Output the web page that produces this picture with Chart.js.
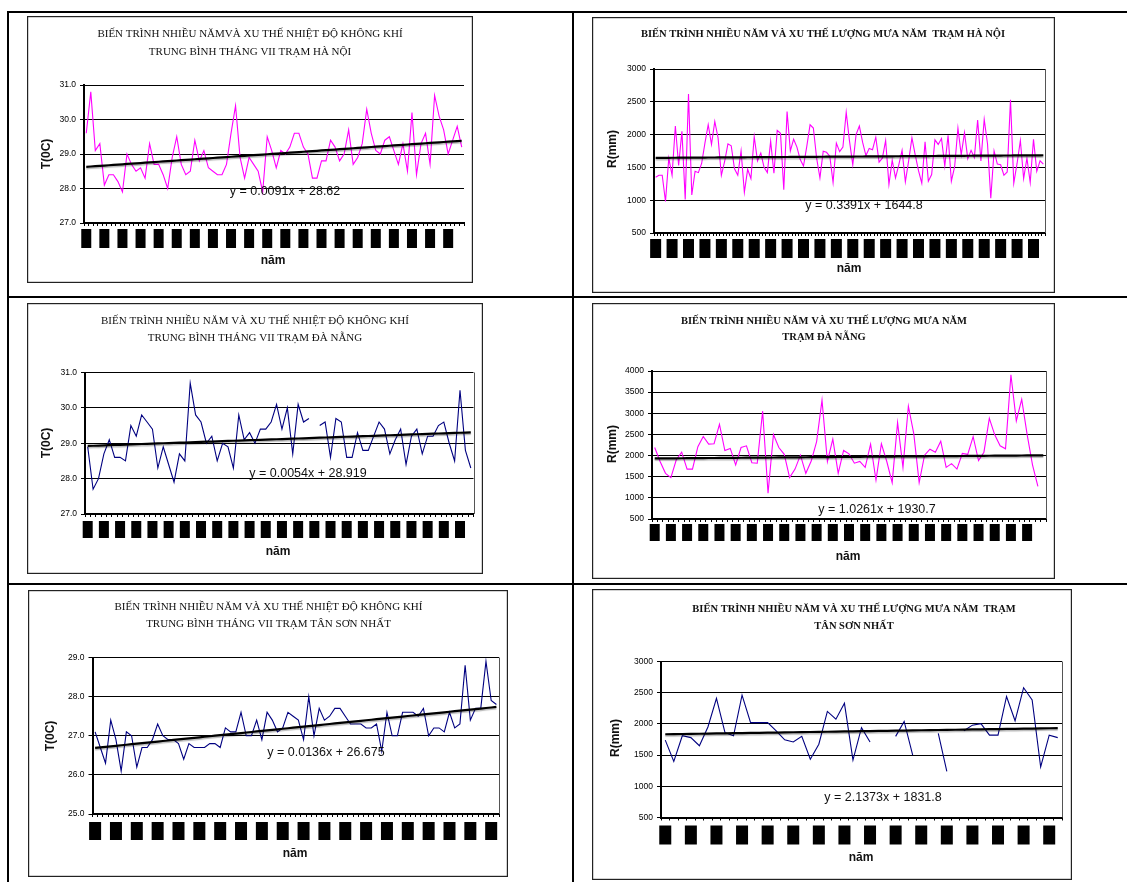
<!DOCTYPE html>
<html lang="vi">
<head>
<meta charset="utf-8">
<title>Biến trình nhiều năm và xu thế nhiệt độ, lượng mưa</title>
<script src="https://cdn.jsdelivr.net/npm/chart.js@4.4.1/dist/chart.umd.min.js"></script>
<style>
  html, body { margin: 0; padding: 0; background: #fff; }
  #page { position: relative; width: 1127px; height: 882px; overflow: hidden; background: #fff; }
  .rule { position: absolute; background: #000; }
  canvas { position: absolute; }
</style>
</head>
<body>
<div id="page">
  <!-- table rules -->
  <div class="rule" style="left:7px;top:11px;width:1120px;height:2px"></div>
  <div class="rule" style="left:7px;top:296px;width:1120px;height:2px"></div>
  <div class="rule" style="left:7px;top:583px;width:1120px;height:2px"></div>
  <div class="rule" style="left:7px;top:11px;width:2px;height:871px"></div>
  <div class="rule" style="left:572px;top:11px;width:2px;height:871px"></div>
</div>
<script>
// ---- July mean air temperature, Hà Nội (°C) ----
const hnTemp = [29.6, 30.8, 29.1, 29.3, 28.1, 28.4, 28.4, 28.2, 27.9, 29.0,
  28.7, 28.5, 28.6, 28.3, 29.3, 28.7, 28.7, 28.4, 28.0, 28.9,
  29.5, 28.7, 28.4, 28.5, 29.4, 28.8, 29.1, 28.6, 28.5, 28.4,
  28.4, 28.7, 29.6, 30.4, 28.9, 28.3, 28.9, 28.7, 28.5, 27.9,
  29.5, 29.1, 28.6, 29.1, 29.0, 29.2, 29.6, 29.6, 29.2, 29.0,
  28.3, 28.3, 28.8, 28.8, 29.4, 29.2, 28.8, 29.0, 29.7, 28.7,
  28.9, 29.3, 30.3, 29.6, 29.1, 29.0, 29.4, 29.5, 29.1, 28.7,
  29.3, 28.5, 30.2, 28.4, 29.3, 29.6, 28.7, 30.7, 30.1, 29.7,
  29.0, 29.4, 29.8, 29.2];
const hnTempTrend = [0.0091, 28.62];           // slope, intercept

// ---- Annual rainfall, Hà Nội (mm) ----
const hnRain = [1350, 1380, 1380, 980, 1640, 1380, 2130, 1530, 2050, 1010,
  2620, 1080, 1440, 1420, 1560, 1870, 2150, 1850, 2200, 1950,
  1380, 1590, 1860, 1830, 1480, 1380, 1750, 1120, 1470, 1330,
  1970, 1600, 1720, 1500, 1420, 1900, 1410, 2065, 2020, 1160,
  2350, 1750, 1930, 1810, 1620, 1520, 1820, 2150, 2100, 1640,
  1340, 1745, 1730, 1670, 1270, 1870, 1740, 1810, 2340, 1900,
  1540, 2000, 2130, 1880, 1680, 1790, 1770, 1960, 1580, 1640,
  1910, 1240, 1610, 1340, 1540, 1760, 1280, 1600, 1950, 1690,
  1450, 1260, 1890, 1290, 1390, 1920, 1850, 1940, 1520, 1990,
  1290, 1510, 2100, 1690, 2030, 1630, 1760, 1650, 2220, 1600,
  2230, 1860, 1030, 1750, 1550, 1540, 1380, 1430, 2530, 1260,
  1560, 1910, 1330, 1640, 1270, 1930, 1440, 1600, 1550];
const hnRainTrend = [0.3391, 1644.8];

// ---- July mean air temperature, Đà Nẵng (°C); null = missing year ----
const dnTemp = [28.9, 27.7, 28.0, 28.7, 29.1, 28.6, 28.6, 28.5, 29.5, 29.2,
  29.8, 29.6, 29.4, 28.3, 28.9, 28.4, 27.9, 28.7, 28.5, 30.7,
  29.8, 29.6, 29.0, 29.2, 28.5, 29.0, 28.9, 28.3, 29.8, 29.1,
  29.3, 29.0, 29.4, 29.4, 29.6, 30.1, 29.4, 30.0, 28.7, 30.1,
  29.6, 29.7, null, 29.5, 29.6, 28.6, 29.7, 29.6, 28.6, 28.6,
  29.3, 28.8, 28.8, 29.2, 29.6, 29.4, 28.7, 29.1, 29.4, 28.4,
  29.2, 29.4, 28.7, 29.2, 29.2, 29.5, 29.6, 29.0, 28.5, 30.5,
  28.8, 28.3];
const dnTempTrend = [0.0054, 28.919];

// ---- Annual rainfall, Đà Nẵng (mm) ----
const dnRain = [2190, 1860, 1580, 1480, 1900, 2080, 1680, 1680, 2210, 2450,
  2270, 2280, 2740, 2120, 2170, 1780, 2190, 2230, 1830, 1820,
  3050, 1110, 2500, 2190, 2030, 1480, 1680, 2010, 1580, 1870,
  2330, 3310, 1860, 2390, 1580, 2120, 2040, 1820, 1860, 1720,
  2270, 1420, 2280, 1860, 1360, 2780, 1720, 3170, 2520, 1360,
  2010, 2150, 2080, 2340, 1720, 1810, 1680, 2050, 2030, 2450,
  1880, 2080, 2880, 2490, 2230, 2160, 3910, 2820, 3330, 2500,
  1780, 1270, null];
const dnRainTrend = [1.0261, 1930.7];

// ---- July mean air temperature, Tân Sơn Nhất (°C) ----
const tsnTemp = [27.1, 26.7, 26.3, 27.4, 26.9, 26.1, 27.1, 27.0, 26.2, 26.7,
  26.7, 26.9, 27.3, 27.0, 26.9, 26.9, 26.8, 26.4, 26.8, 26.7,
  26.7, 26.7, 26.8, 26.8, 26.7, 27.2, 27.1, 27.1, 27.6, 27.0,
  27.0, 27.4, 26.9, 27.6, 27.4, 27.1, 27.2, 27.6, 27.5, 27.4,
  26.9, 28.0, 27.0, 27.7, 27.4, 27.5, 27.7, 27.7, 27.5, 27.3,
  27.3, 27.3, 27.2, 27.2, 27.3, 26.6, 27.6, 27.0, 27.0, 27.6,
  27.6, 27.6, 27.5, 27.7, 27.0, 27.2, 27.2, 27.1, 27.6, 27.2,
  27.3, 28.8, 27.4, 27.7, 27.7, 28.9, 27.9, 27.8];
const tsnTempTrend = [0.0136, 26.675];

// ---- Annual rainfall, Tân Sơn Nhất (mm); null = missing year ----
const tsnRain = [1740, 1400, 1810, 1780, 1650, 1950, 2410, 1860, 1810, 2460,
  2020, 2020, 2020, 1890, 1745, 1710, 1800, 1435, 1675, 2200,
  2075, 2330, 1420, 1940, 1710, null, null, 1800, 2040, 1500,
  null, null, 1850, 1240, null, 1890, 1980, 2005, 1820, 1820,
  2440, 2050, 2580, 2385, 1310, 1820, 1780];
const tsnRainTrend = [2.1373, 1831.8];

// ---- value-axis ticks ----
const tempTicksHN = [27, 28, 29, 30, 31];
const tempTicksDN = [27, 28, 29, 30, 31];
const tempTicksTSN = [25, 26, 27, 28, 29];
const rainTicksHN = [500, 1000, 1500, 2000, 2500, 3000];
const rainTicksDN = [500, 1000, 1500, 2000, 2500, 3000, 3500, 4000];
const rainTicksTSN = [500, 1000, 1500, 2000, 2500, 3000];

// ---- chart titles ----
const titleHNTemp = ['BIẾN TRÌNH NHIỀU NĂMVÀ XU THẾ NHIỆT ĐỘ KHÔNG KHÍ', 'TRUNG BÌNH THÁNG VII TRẠM HÀ NỘI'];
const titleHNRain = ['BIẾN TRÌNH NHIỀU NĂM VÀ XU THẾ LƯỢNG MƯA NĂM  TRẠM HÀ NỘI'];
const titleDNTemp = ['BIẾN TRÌNH NHIỀU NĂM VÀ XU THẾ NHIỆT ĐỘ KHÔNG KHÍ', 'TRUNG BÌNH THÁNG VII TRẠM ĐÀ NẴNG'];
const titleDNRain = ['BIẾN TRÌNH NHIỀU NĂM VÀ XU THẾ LƯỢNG MƯA NĂM', 'TRẠM ĐÀ NẴNG'];
const titleTSNTemp = ['BIẾN TRÌNH NHIỀU NĂM VÀ XU THẾ NHIỆT ĐỘ KHÔNG KHÍ', 'TRUNG BÌNH THÁNG VII TRẠM TÂN SƠN NHẤT'];
const titleTSNRain = ['BIẾN TRÌNH NHIỀU NĂM VÀ XU THẾ LƯỢNG MƯA NĂM  TRẠM', 'TÂN SƠN NHẤT'];

const MAGENTA = '#FF00FF';
const NAVY = '#000080';
const SERIF = '"Liberation Serif", "Times New Roman", serif';
const SANS = '"Liberation Sans", Arial, sans-serif';

// Page layout of each panel: box = chart frame [x, y, w, h], plot = [left, top, right, bottom]
const panels = [
  { series: hnTemp, trend: hnTempTrend, ticks: tempTicksHN, decimals: 1, color: MAGENTA, yTitle: 'T(0C)',
    title: titleHNTemp, titleBold: false, titleX: 250, titleY: [34.5, 52],
    box: [27, 16, 446, 267], plot: [84, 85, 464, 223],
    yTitleAt: [47, 154], xTitleAt: [273, 261], eqAt: [285, 192],
    blocks: { step: 4, count: 21, w: 10, gap: 6, h: 19 }, rightEdge: false },
  { series: hnRain, trend: hnRainTrend, ticks: rainTicksHN, decimals: 0, color: MAGENTA, yTitle: 'R(mm)',
    title: titleHNRain, titleBold: true, titleX: 823, titleY: [34.5],
    box: [592, 17, 463, 276], plot: [654, 69, 1045, 233],
    yTitleAt: [613, 149], xTitleAt: [849, 269], eqAt: [864, 206],
    blocks: { step: 5, count: 24, w: 11, gap: 6, h: 19 }, rightEdge: true },
  { series: dnTemp, trend: dnTempTrend, ticks: tempTicksDN, decimals: 1, color: NAVY, yTitle: 'T(0C)',
    title: titleDNTemp, titleBold: false, titleX: 255, titleY: [321, 338.5],
    box: [27, 303, 456, 271], plot: [85, 372.5, 473.5, 514],
    yTitleAt: [47, 443], xTitleAt: [278, 552], eqAt: [308, 474],
    blocks: { step: 3, count: 24, w: 10, gap: 7, h: 17 }, rightEdge: true },
  { series: dnRain, trend: dnRainTrend, ticks: rainTicksDN, decimals: 0, color: MAGENTA, yTitle: 'R(mm)',
    title: titleDNRain, titleBold: true, titleX: 824, titleY: [321.5, 337.5],
    box: [592, 303, 463, 276], plot: [652, 371, 1046, 519],
    yTitleAt: [613, 444], xTitleAt: [848, 557], eqAt: [877, 510],
    blocks: { step: 3, count: 24, w: 10, gap: 5, h: 17 }, rightEdge: true },
  { series: tsnTemp, trend: tsnTempTrend, ticks: tempTicksTSN, decimals: 1, color: NAVY, yTitle: 'T(0C)',
    title: titleTSNTemp, titleBold: false, titleX: 268.5, titleY: [607.5, 624],
    box: [28, 590, 480, 287], plot: [92.5, 657.5, 499, 814],
    yTitleAt: [51, 736], xTitleAt: [295, 854], eqAt: [326, 752.5],
    blocks: { step: 4, count: 20, w: 12, gap: 8, h: 18 }, rightEdge: true },
  { series: tsnRain, trend: tsnRainTrend, ticks: rainTicksTSN, decimals: 0, color: NAVY, yTitle: 'R(mm)',
    title: titleTSNRain, titleBold: true, titleX: 854, titleY: [609.5, 626],
    box: [592, 589, 480, 291], plot: [661, 661.5, 1062, 817.5],
    yTitleAt: [615.5, 738], xTitleAt: [861, 858], eqAt: [883, 797.5],
    blocks: { step: 3, count: 16, w: 12, gap: 8, h: 19 }, rightEdge: true }
];

Chart.defaults.font.family = SANS;

// Frame, titles, axis captions, trend equation and the year-label blocks
function decorations(p) {
  const [bx, by, bw, bh] = p.box;
  return {
    id: 'decorations',
    beforeDatasetDraw(chart, args) {
      if (args.index === 0) {
        const ctx = chart.ctx;
        ctx.save();
        ctx.shadowColor = 'rgba(0,0,0,0.28)';
        ctx.shadowOffsetY = 1.5;
        ctx.shadowBlur = 1;
      }
    },
    afterDatasetDraw(chart, args) {
      if (args.index === 0) chart.ctx.restore();
    },
    afterDraw(chart) {
      const ctx = chart.ctx;
      const area = chart.chartArea;
      const xs = chart.scales.x;
      ctx.save();

      if (p.rightEdge) {
        ctx.strokeStyle = '#555';
        ctx.lineWidth = 1;
        ctx.beginPath();
        ctx.moveTo(Math.round(area.right) + 0.5, area.top);
        ctx.lineTo(Math.round(area.right) + 0.5, area.bottom);
        ctx.stroke();
      }

      // year labels printed as solid blocks
      ctx.fillStyle = '#000';
      const b = p.blocks;
      for (let k = 0; k < b.count; k++) {
        const px = xs.getPixelForValue(k * b.step);
        ctx.fillRect(px - b.w / 2, area.bottom + b.gap, b.w, b.h);
      }

      ctx.fillStyle = '#111';
      ctx.textAlign = 'center';
      ctx.textBaseline = 'middle';

      ctx.font = (p.titleBold ? 'bold 10.5px ' : '11px ') + SERIF;
      p.title.forEach((line, i) => ctx.fillText(line, p.titleX - bx, p.titleY[i] - by));

      ctx.font = 'bold 12px ' + SANS;
      ctx.fillText('năm', p.xTitleAt[0] - bx, p.xTitleAt[1] - by);
      ctx.save();
      ctx.translate(p.yTitleAt[0] - bx, p.yTitleAt[1] - by);
      ctx.rotate(-Math.PI / 2);
      ctx.fillText(p.yTitle, 0, 0);
      ctx.restore();

      ctx.font = '12.5px ' + SANS;
      ctx.fillText('y = ' + p.trend[0] + 'x + ' + p.trend[1], p.eqAt[0] - bx, p.eqAt[1] - by);

      ctx.strokeStyle = '#222';
      ctx.lineWidth = 1.2;
      ctx.strokeRect(0.6, 0.6, bw - 1.2, bh - 1.2);
      ctx.restore();
    }
  };
}

const page = document.getElementById('page');
panels.forEach(p => {
  const [bx, by, bw, bh] = p.box;
  const [pl, pt, pr, pb] = p.plot;
  const cv = document.createElement('canvas');
  cv.width = bw; cv.height = bh;
  cv.style.left = bx + 'px'; cv.style.top = by + 'px';
  cv.style.width = bw + 'px'; cv.style.height = bh + 'px';
  page.appendChild(cv);

  const labels = p.series.map((_, i) => i + 1);
  const [slope, intercept] = p.trend;
  const trendLine = labels.map(x => slope * x + intercept);
  const yt = p.ticks;

  new Chart(cv, {
    type: 'line',
    data: {
      labels,
      datasets: [
        { data: trendLine, borderColor: '#000', borderWidth: 2.2, pointRadius: 0, tension: 0, fill: false },
        { data: p.series, borderColor: p.color, borderWidth: 1.1, pointRadius: 0, tension: 0, fill: false, spanGaps: false }
      ]
    },
    options: {
      responsive: false,
      animation: false,
      devicePixelRatio: 1,
      events: [],
      layout: { padding: { top: pt - by, right: bx + bw - pr, bottom: 0, left: 0 } },
      plugins: { legend: { display: false }, tooltip: { enabled: false }, title: { display: false } },
      scales: {
        x: {
          type: 'category',
          offset: true,
          ticks: { display: false },
          grid: { display: true, offset: true, drawOnChartArea: false, drawTicks: true, tickLength: 3, color: '#000', lineWidth: 1 },
          border: { display: true, color: '#000', width: 2 },
          afterFit: s => { s.height = by + bh - pb; }
        },
        y: {
          min: yt[0],
          max: yt[yt.length - 1],
          afterBuildTicks: s => { s.ticks = yt.map(v => ({ value: v })); },
          ticks: {
            callback: v => Number(v).toFixed(p.decimals),
            font: { size: 8.5, family: SANS },
            color: '#000',
            padding: 4
          },
          grid: { color: '#000', lineWidth: 1, tickLength: 4, drawTicks: true },
          border: { display: true, color: '#000', width: 2 },
          afterFit: s => { s.width = pl - bx; }
        }
      }
    },
    plugins: [decorations(p)]
  });
});
</script>
</body>
</html>
